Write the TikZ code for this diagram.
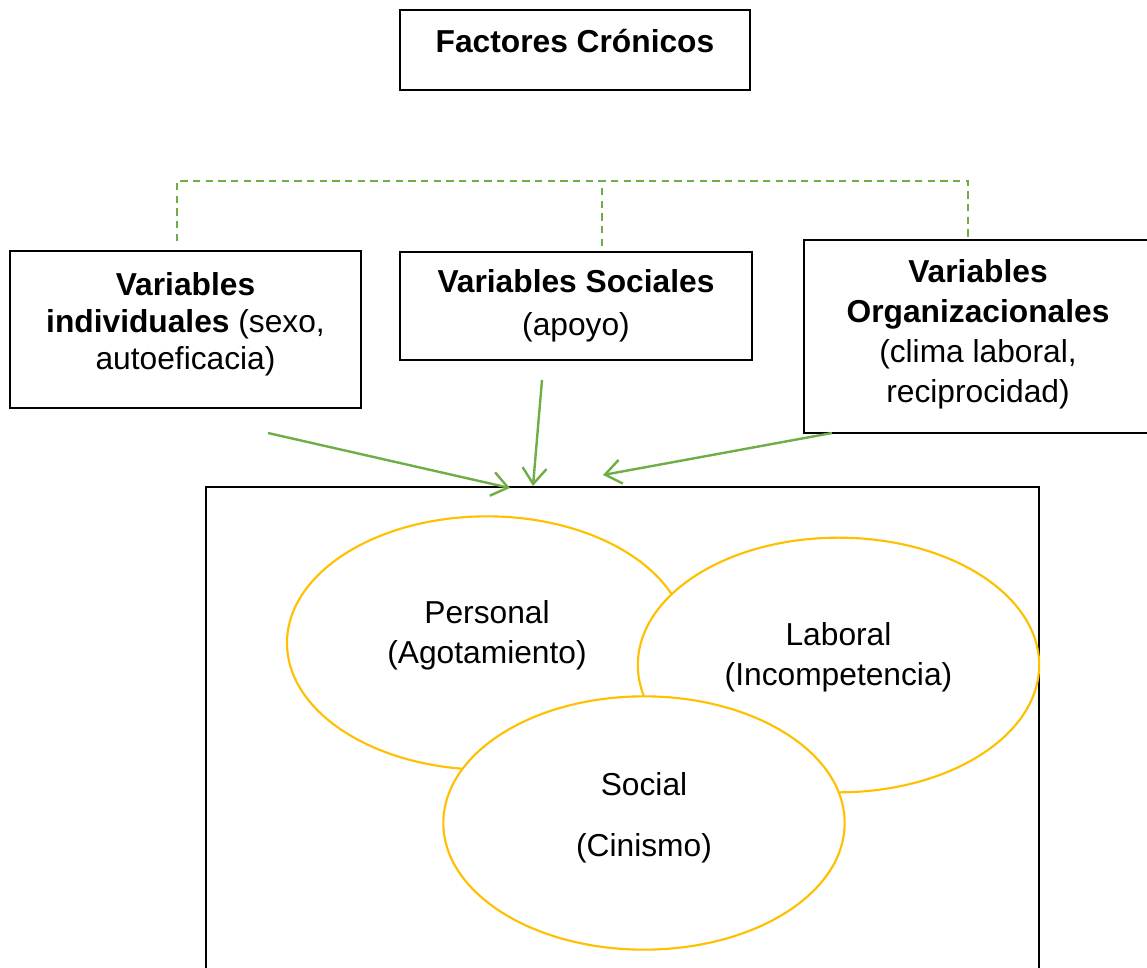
\documentclass[tikz,border=0pt]{standalone}
\usepackage{fontspec}
\setmainfont{Liberation Sans}
\usetikzlibrary{arrows.meta,shapes.geometric}
\definecolor{leafgreen}{RGB}{112,173,71}
\definecolor{amber}{RGB}{255,192,0}
\tikzset{
  varbox/.style={draw=black, line width=1.5pt, align=center, inner sep=0.75pt},
  dimell/.style={ellipse, draw=amber, line width=1.6pt, fill=white, inner sep=0pt, align=center},
  influx/.style={draw=leafgreen, line width=1.8pt, -{Straight Barb[length=12pt,width=18pt]}},
  bracket/.style={draw=leafgreen, line width=1.3pt, dash pattern=on 5.5pt off 4pt},
}
\begin{document}
\begin{tikzpicture}[x=0.75pt,y=0.75pt,yscale=-1,xscale=1,font=\fontsize{23.8pt}{28.5pt}\selectfont]
\useasboundingbox (0,0) rectangle (1147,968);

% Text Node
\node[varbox, minimum width=262.5pt, minimum height=60pt, text depth=13.5pt] (cronicos) at (575,50) {\textbf{Factores Crónicos}};

% Text Node
\node[varbox, minimum width=263.25pt, minimum height=117.75pt, text depth=12.5pt,
  font=\fontsize{23.8pt}{27.75pt}\selectfont] (indiv) at (185.5,329.5) {\textbf{Variables}\\\textbf{individuales} (sexo,\\autoeficacia)};
\node[varbox, minimum width=264pt, minimum height=81pt,
  font=\fontsize{23.8pt}{32pt}\selectfont] (sociales) at (576,306) {\textbf{Variables Sociales}\\(apoyo)};
\node[varbox, minimum width=261pt, minimum height=144.75pt, text depth=8pt,
  font=\fontsize{23.8pt}{30pt}\selectfont] (org) at (978,336.5) {\textbf{Variables}\\\textbf{Organizacionales}\\(clima laboral,\\reciprocidad)};

%Shape: Rectangle
\node[varbox, minimum width=624.75pt, minimum height=366pt] (burnout) at (622.5,731) {};

%Shape: Ellipse
\node[dimell, minimum width=300pt, minimum height=190pt, text depth=17pt,
  font=\fontsize{23.8pt}{30pt}\selectfont] (personal) at (487,643) {Personal\\(Agotamiento)};
\node[dimell, minimum width=301pt, minimum height=191pt, text depth=17pt,
  font=\fontsize{23.8pt}{30pt}\selectfont] (laboral) at (838.5,665) {Laboral\\(Incompetencia)};
\node[dimell, minimum width=301pt, minimum height=190pt, text depth=12.5pt] (social) at (644,823) {Social\\[17.5pt](Cinismo)};

%Dashed Lines
\coordinate (bl) at (177,241);
\coordinate (bartop) at (602,181);
\coordinate (br) at (968,240);
\coordinate (mtop) at (602,188);
\coordinate (bm) at (602,247);
\draw[bracket] (bl) |- (bartop) -| (br);
\draw[bracket] (mtop) -- (bm);

%Straight Lines
\coordinate (indivtail) at (268,433);
\coordinate (socialtail) at (542,380);
\coordinate (orgtail) at (832,433);
\coordinate (indivhead) at (510,488);
\coordinate (socialhead) at (533,486);
\coordinate (orghead) at (603,475);
\draw[influx] (indivtail) -- (indivhead);
\draw[influx] (socialtail) -- (socialhead);
\draw[influx] (orgtail) -- (orghead);

\end{tikzpicture}
\end{document}
